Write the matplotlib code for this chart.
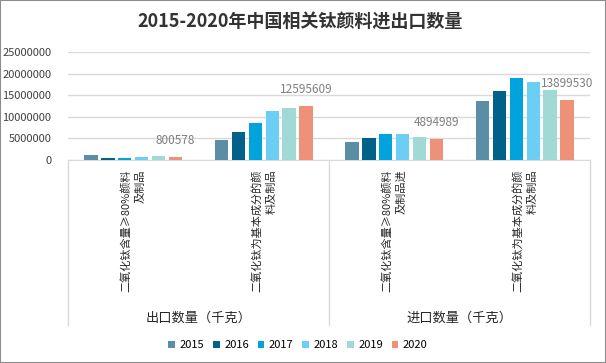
import numpy as np
import matplotlib
matplotlib.use('Agg')
import matplotlib.pyplot as plt
from matplotlib.patches import Rectangle

plt.rcParams['font.family'] = ['Noto Sans CJK SC', 'DejaVu Sans']

years = ['2015', '2016', '2017', '2018', '2019', '2020']
categories = ['二氧化钛含量≥80%颜料\n及制品', '二氧化钛为基本成分的颜\n料及制品',
              '二氧化钛含量≥80%颜料\n及制品进', '二氧化钛为基本成分的颜\n料及制品']
groups = ['出口数量（千克）', '进口数量（千克）']
values = {
    '2015': [1160000, 4700000, 4170000, 13660000],
    '2016': [460000, 6480000, 5090000, 15970000],
    '2017': [460000, 8560000, 6020000, 18980000],
    '2018': [700000, 11300000, 6020000, 18060000],
    '2019': [930000, 12000000, 5320000, 16100000],
    '2020': [800578, 12595609, 4894989, 13899530],
}
colors = ['#5B8EA6', '#00628A', '#00A3DC', '#6DCEF5', '#A0D9D5', '#EE9179']

W, H = 606, 363
fig = plt.figure(figsize=(W / 100, H / 100), dpi=100)
fig.patches.append(Rectangle((0, 0), 1, 1, transform=fig.transFigure, fill=False,
                             edgecolor='#8C8C8C', linewidth=1.5))
ax = fig.add_axes([68 / W, 1 - 160 / H, (590 - 68) / W, (160 - 52) / H])

x = np.arange(len(categories))
bw = 0.103
step = 0.13
for i, (yr, c) in enumerate(zip(years, colors)):
    pos = x + (i - 2.5) * step
    bars = ax.bar(pos, values[yr], width=bw, color=c, label=yr, zorder=3)
    if yr == '2020':
        for b, v in zip(bars, values[yr]):
            ax.annotate(str(v), (b.get_x() + b.get_width() / 2, v), xytext=(0, 7),
                        textcoords='offset points', ha='center', va='bottom',
                        fontsize=8.5, color='#7F7F7F')

ax.set_xlim(-0.5, len(categories) - 0.5)
ax.set_ylim(0, 25000000)
ax.set_yticks(np.arange(0, 25000001, 5000000))
ax.set_yticklabels([str(v) for v in range(0, 25000001, 5000000)])
ax.tick_params(axis='y', length=0, labelsize=8, labelcolor='#404040', pad=12)
ax.tick_params(axis='x', length=0, labelbottom=False)
ax.grid(axis='y', color='#D9D9D9', linewidth=1, zorder=0)
for s in ['top', 'right', 'left']:
    ax.spines[s].set_visible(False)
ax.spines['bottom'].set_color('#D9D9D9')

# category labels, rotated
for xi, lab in zip(x, categories):
    ax.text(xi, -0.09, lab, transform=ax.get_xaxis_transform(), rotation=90,
            ha='center', va='top', multialignment='right', fontsize=8,
            linespacing=1.6, color='#262626')

# group separators and labels
ybot = -(325 - 160) / 108
for xs in [0, 0.5, 1]:
    ax.plot([xs, xs], [0, ybot], transform=ax.transAxes, color='#D9D9D9',
            linewidth=1, clip_on=False)
for gi, g in enumerate(groups):
    ax.text(0.25 + 0.5 * gi, -(318 - 160) / 108, g, transform=ax.transAxes,
            ha='center', va='center', fontsize=9.5, color='#262626')

fig.suptitle('2015-2020年中国相关钛颜料进出口数量', x=0.495, y=1 - 22 / H, va='center',
             fontsize=13, fontweight='bold', color='#333333')

ax.legend(loc='center', bbox_to_anchor=(298 / W, 1 - 345 / H), bbox_transform=fig.transFigure,
          ncol=6, frameon=False, fontsize=8, handlelength=0.6, handleheight=0.6,
          columnspacing=0.8, handletextpad=0.4)

plt.savefig('out.png', dpi=100)
